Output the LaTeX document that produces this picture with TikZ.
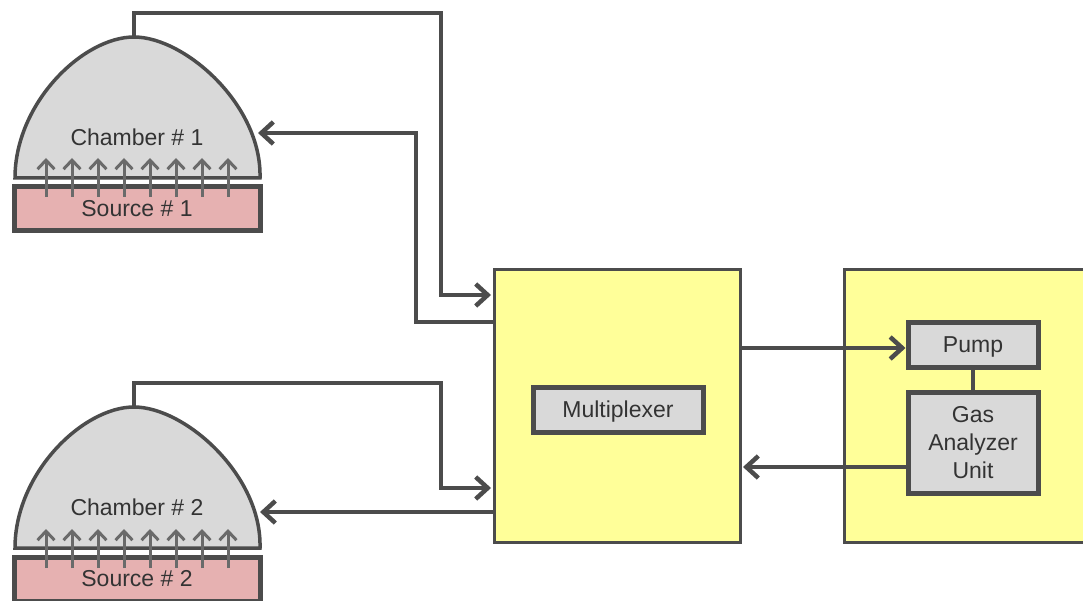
\documentclass[tikz,border=0pt]{standalone}
\usepackage{fontspec}
\setmainfont{Liberation Sans}
\usetikzlibrary{positioning,arrows.meta}

\begin{document}
\begin{tikzpicture}[x=1pt, y=-1pt, font=\fontsize{23}{28}\selectfont, text=ink,
		unit/.style={draw=wire, line width=3pt, fill=panel, minimum width=246pt, minimum height=272pt, anchor=north west},
		part/.style={draw=wire, line width=5pt, fill=shell, minimum width=130pt, align=center, inner sep=0pt},
		oneline/.style={text height=16.5pt, text depth=0pt},
		src/.style={draw=wire, line width=5pt, fill=rose, minimum width=246pt, minimum height=44pt, inner sep=0pt, anchor=north west},
		dome/.style={draw=wire, line width=3.5pt, fill=shell},
		pipe/.style={draw=wire, line width=4.5pt},
		feed/.style={pipe, -{Straight Barb[length=12pt, width=22pt, line width=4.5pt]}},
		gas/.style={draw=flow, line width=3pt, -{Straight Barb[length=9pt, width=17pt, line width=3pt]}}]
		\definecolor{ink}{HTML}{333333}
		\definecolor{wire}{HTML}{4C4C4C}
		\definecolor{flow}{HTML}{6A6A6A}
		\definecolor{shell}{HTML}{D9D9D9}
		\definecolor{rose}{HTML}{E6B1B1}
		\definecolor{panel}{HTML}{FFFF99}
		\useasboundingbox (0,0) rectangle (1083,601);
		\clip (0,0) rectangle (1083,601);

		\node[unit] (mux) at (492.5,268.5) {};
		\node[unit] (analyzer) at (843,268.5) {};
		\node[part, oneline, minimum width=170pt, minimum height=45pt] (plexer) at (618,409.5) {Multiplexer};
		\node[part, oneline, minimum height=45pt] (pump) at (973,344.5) {Pump};
		\node[part, minimum height=101pt, below=20pt of pump] (unit) {Gas\\Analyzer\\Unit};
		\draw[pipe] (pump) -- (unit);

		\draw[dome] (15,178) .. controls (15,103) and (83,37) .. (134,37) .. controls (185,37) and (262,105) .. (260,178) -- cycle;
		\coordinate (top1) at (134,37);
		\coordinate (side1) at (258,133);
		\node (chamber1) at (137,137) {Chamber \# 1};
		\node[src] (source1) at (12,184) {};
		\node (label1) at (137,209) {Source \# 1};

		\draw[dome] (15,548) .. controls (15,473) and (83,407) .. (134,407) .. controls (185,407) and (262,475) .. (260,548) -- cycle;
		\coordinate (top2) at (134,407);
		\coordinate (side2) at (260,512);
		\node (chamber2) at (137,507) {Chamber \# 2};
		\node[src] (source2) at (12,555) {};
		\node (label2) at (137,579) {Source \# 2};

		\foreach \n/\t in {1/186, 2/557}
			\foreach \x in {46,72,98,124,150,176,202,228}
				\draw[gas] (\x,\t+11) -- (\x,\t-28);

		\coordinate (in1) at (491,295);
		\coordinate (out1) at (494,322);
		\coordinate (in2) at (491,488);
		\coordinate (out2) at (494,512);
		\draw[feed] (top1) -- (134,13) -- (441,13) -- (441,295) -- (in1);
		\draw[feed] (out1) -- (416,322) -- (416,133) -- (side1);
		\draw[feed] (top2) -- (134,383) -- (441,383) -- (441,488) -- (in2);
		\draw[feed] (out2) -- (side2);
		\draw[feed] (mux.east |- 0,348) -- (pump.west |- 0,348);
		\draw[feed] (unit.west |- 0,467) -- (743,467);
	\end{tikzpicture}
\end{document}
